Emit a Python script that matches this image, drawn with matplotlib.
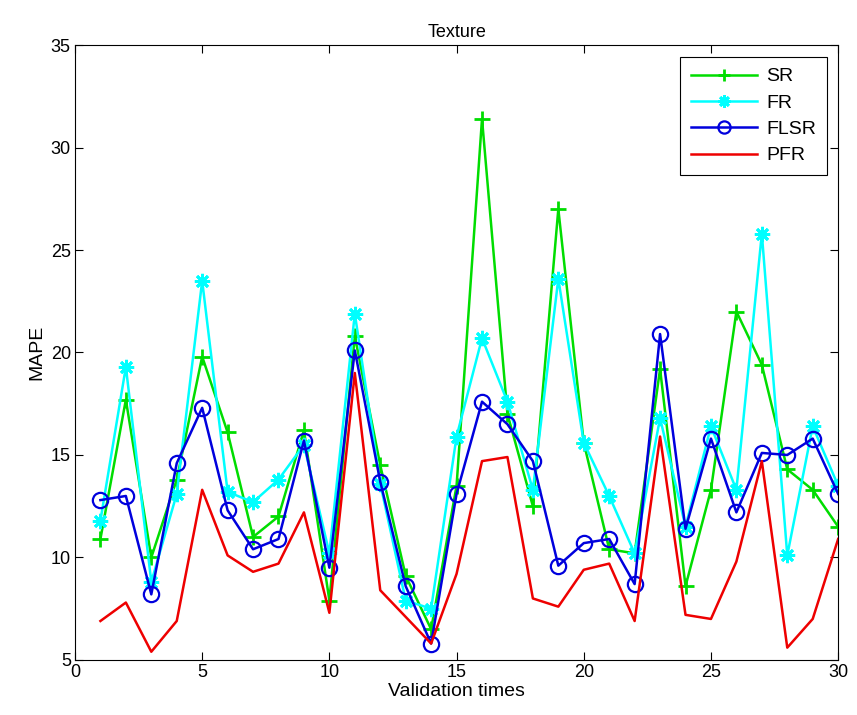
import numpy as np
import matplotlib as mpl
import matplotlib.pyplot as plt

mpl.rcParams['font.family'] = ['Liberation Sans', 'DejaVu Sans']

# 验证次数
times = np.arange(1, 31)

sr = [10.9, 17.7, 10.0, 13.8, 19.8, 16.1, 11.0, 12.0, 16.2, 7.9,
      20.8, 14.5, 9.1, 6.5, 13.5, 31.4, 17.0, 12.5, 27.0, 15.6,
      10.4, 10.2, 19.2, 8.6, 13.3, 22.0, 19.4, 14.3, 13.3, 11.5]
fr = [11.8, 19.3, 8.8, 13.1, 23.5, 13.2, 12.7, 13.8, 15.5, 10.2,
      21.9, 13.6, 7.9, 7.5, 15.9, 20.7, 17.6, 13.3, 23.6, 15.6,
      13.0, 10.2, 16.8, 11.5, 16.4, 13.3, 25.8, 10.1, 16.4, 13.5]
flsr = [12.8, 13.0, 8.2, 14.6, 17.3, 12.3, 10.4, 10.9, 15.7, 9.5,
        20.1, 13.7, 8.6, 5.8, 13.1, 17.6, 16.5, 14.7, 9.6, 10.7,
        10.9, 8.7, 20.9, 11.4, 15.8, 12.2, 15.1, 15.0, 15.8, 13.1]
pfr = [6.9, 7.8, 5.4, 6.9, 13.3, 10.1, 9.3, 9.7, 12.2, 7.3,
       19.0, 8.4, 7.1, 5.8, 9.2, 14.7, 14.9, 8.0, 7.6, 9.4,
       9.7, 6.9, 15.9, 7.2, 7.0, 9.8, 14.7, 5.6, 7.0, 10.9]

fig = plt.figure(figsize=(8.57, 7.15), dpi=100)
ax = fig.add_axes([0.0875, 0.077, 0.8905, 0.86])

# MATLAB风格: '+', '*', 'o'
ax.plot(times, sr, '-+', color='#00dd00', lw=1.8, ms=11, mew=2, label='SR')
ax.plot(times, fr, '-', marker=(8, 2, 0), color='#00ffff', lw=1.8, ms=11,
        mew=2, label='FR')
ax.plot(times, flsr, '-o', color='#0000dd', lw=1.8, ms=11, mew=1.6,
        mfc='none', label='FLSR')
ax.plot(times, pfr, '-', color='#ee0000', lw=1.8, label='PFR')

ax.set_xlim(0, 30)
ax.set_ylim(5, 35)
ax.set_xticks(range(0, 31, 5))
ax.set_yticks(range(5, 36, 5))
ax.tick_params(direction='in', top=True, right=True, labelsize=13,
               length=6, pad=3)
for s in ax.spines.values():
    s.set_linewidth(0.8)
ax.set_title('Texture', fontsize=13)
ax.set_xlabel('Validation times', fontsize=14, labelpad=1)
ax.set_ylabel('MAPE', fontsize=14)

leg = ax.legend(loc='upper right', fontsize=14, fancybox=False,
                edgecolor='black', framealpha=1, handlelength=3.4,
                handletextpad=0.5, borderpad=0.55, labelspacing=0.45,
                borderaxespad=0, markerscale=0.8,
                bbox_to_anchor=(0.9856, 0.9805))
leg.get_frame().set_linewidth(0.8)

plt.savefig('out.png')
